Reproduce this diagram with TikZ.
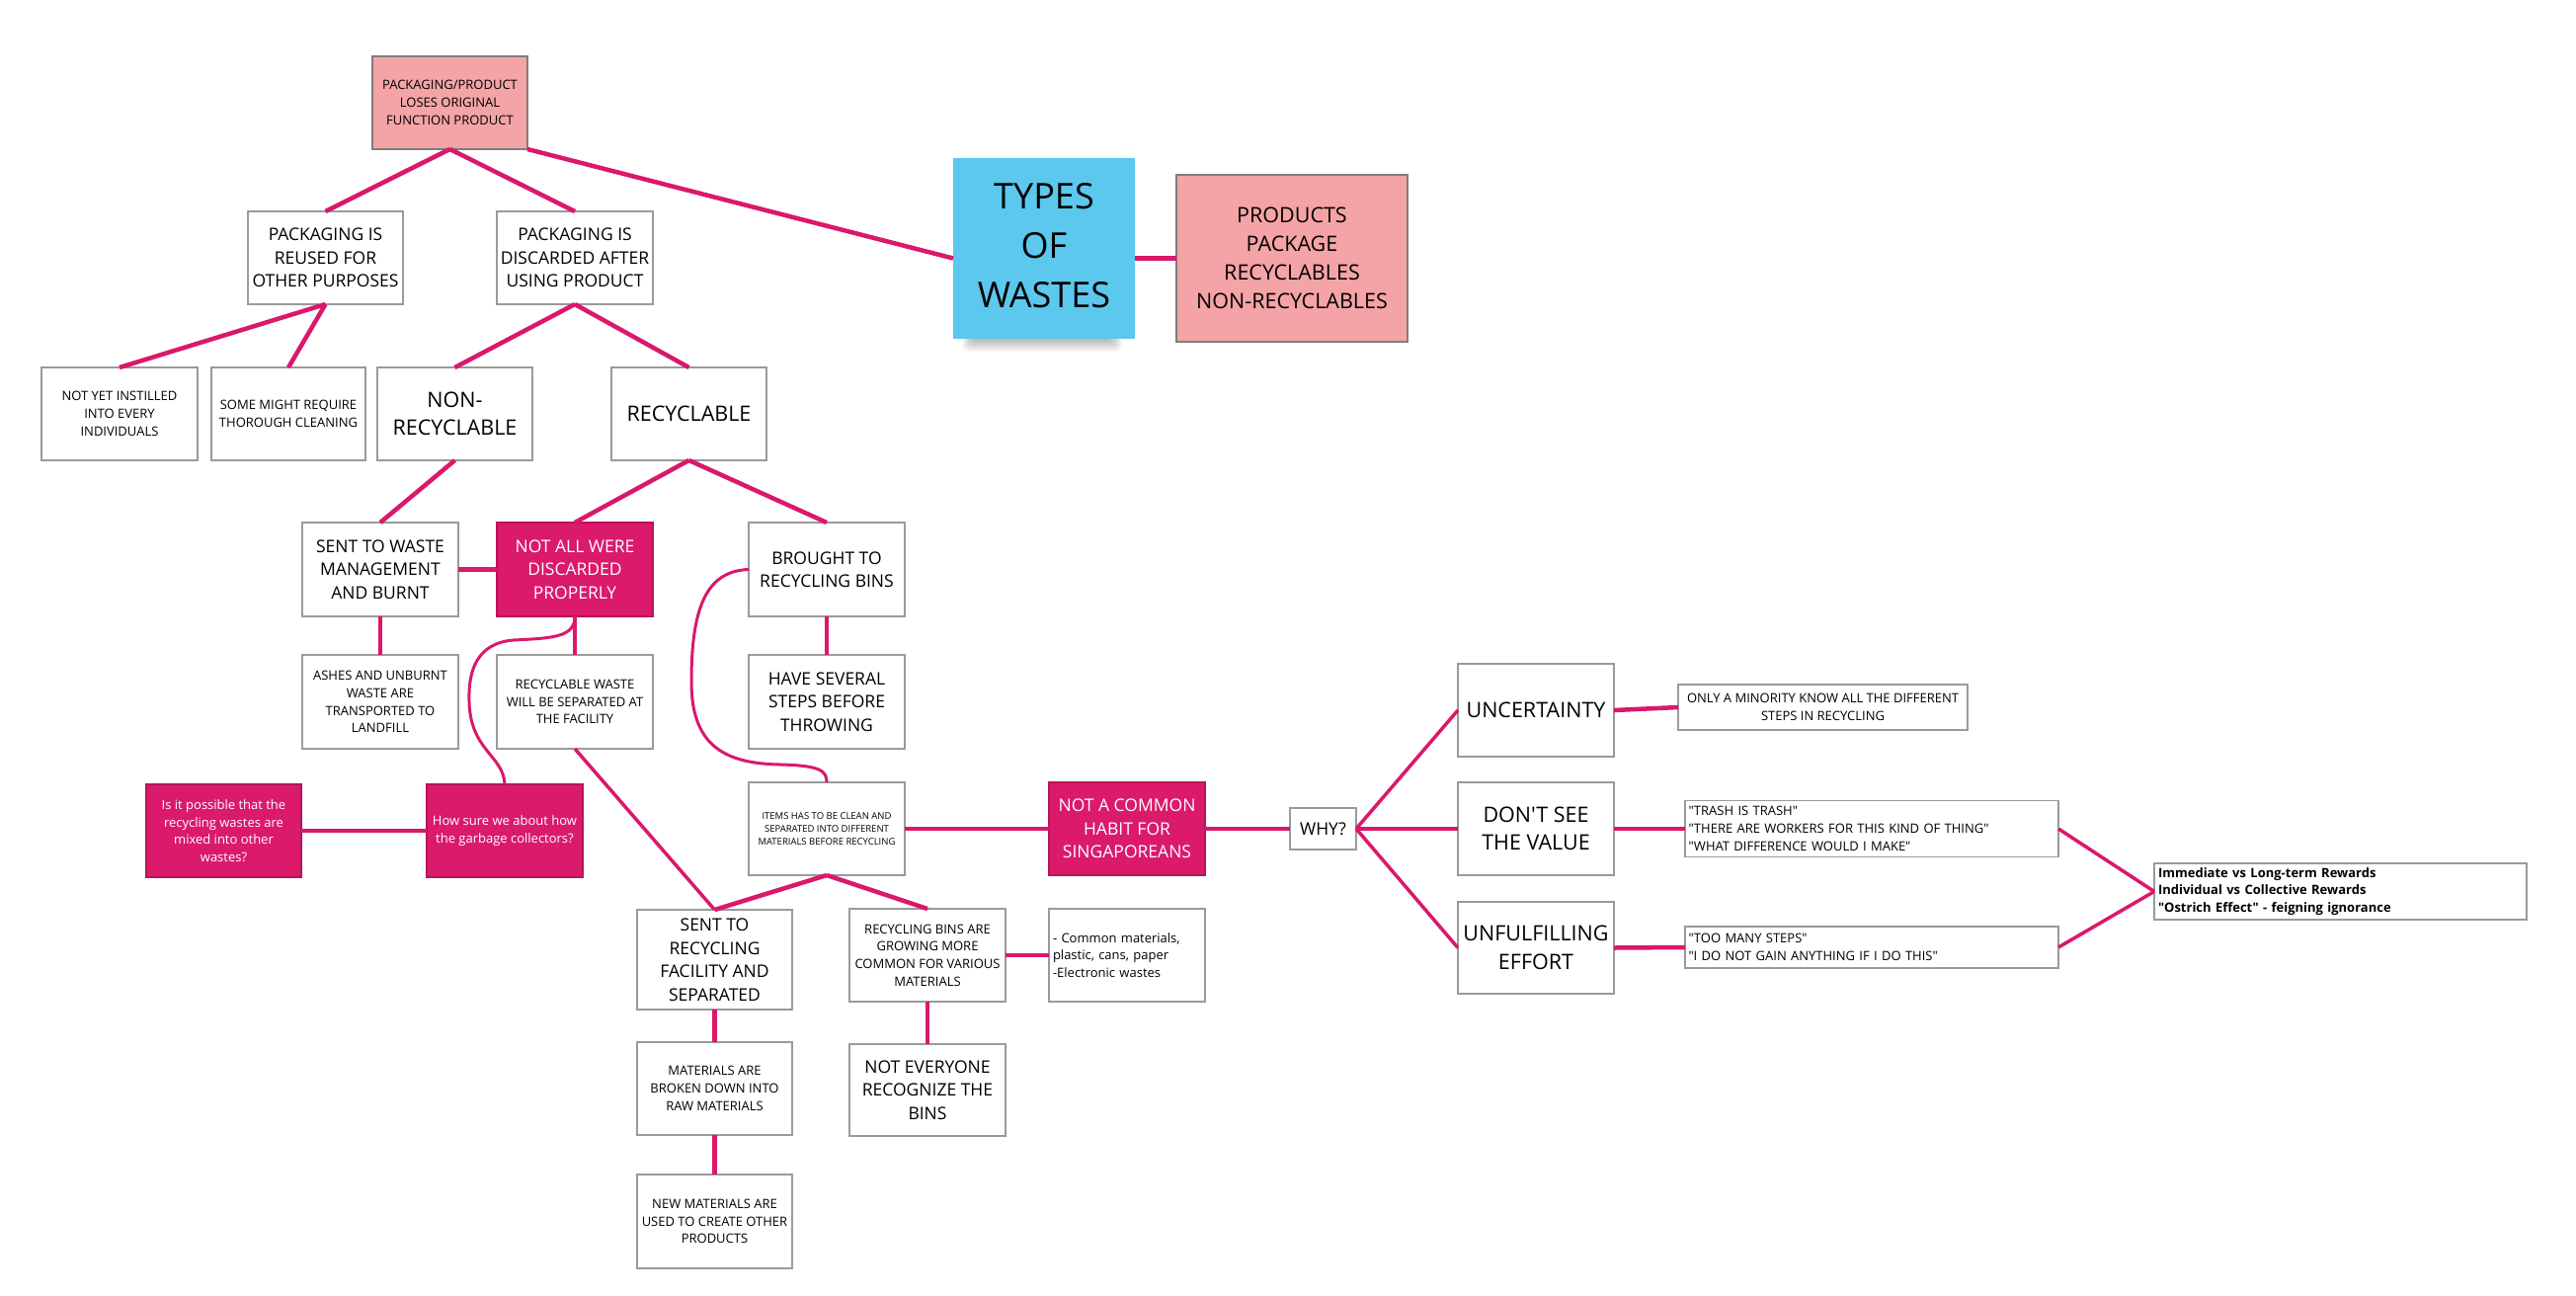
\documentclass[tikz,border=0pt]{standalone}
\usepackage{fontspec}
\setmainfont{Open Sans}[Ligatures=TeXOff]
\definecolor{mag}{HTML}{DA186C}
\definecolor{magfill}{HTML}{DB1A6C}
\definecolor{magbord}{HTML}{B8145A}
\definecolor{pinkfill}{HTML}{F4A3A6}
\definecolor{bord}{HTML}{9A9A9A}
\definecolor{pbord}{HTML}{7E7E7E}
\definecolor{stickyblue}{HTML}{5CC8EE}
\newcommand\fzA{\fontsize{9.5}{13.3}\selectfont}
\newcommand\fzB{\fontsize{13}{17.7}\selectfont}
\newcommand\fzC{\fontsize{17.5}{23.5}\selectfont}
\newcommand\fzD{\fontsize{21.5}{28.5}\selectfont}
\newcommand\fzE{\fontsize{36}{50}\selectfont}
\begin{document}
\begin{tikzpicture}[x=1pt,y=-1pt,
  box/.style={draw=bord, line width=1.3pt, fill=white, inner sep=0pt, outer sep=0pt, align=center, text=black},
  pinkbox/.style={box, draw=pbord, fill=pinkfill},
  magbox/.style={box, draw=magbord, fill=magfill, text=white},
  sz/.style 2 args={minimum width=#1, minimum height=#2},
  conn/.style={draw=mag, line width=4.5pt},
  thinconn/.style={draw=mag, line width=3.5pt},
  curveconn/.style={draw=mag, line width=3pt}]
\useasboundingbox (0,0) rectangle (2608,1312);

% sticky shadow
\foreach \i in {0,...,7}
  \fill[black, opacity=0.045, rounded corners=6pt] (985-\i*1.5,330) rectangle (1125+\i*1.5,343+\i*1.8);

% nodes
\node[pinkbox, sz={157}{94}, font=\fzB] (top) at (455.5,104) {PACKAGING/PRODUCT\\LOSES ORIGINAL\\FUNCTION PRODUCT};
\node[box, sz={157}{94}, font=\fzC] (reused) at (329.5,261) {PACKAGING IS\\REUSED FOR\\OTHER PURPOSES};
\node[box, sz={158}{94}, font=\fzC] (discarded) at (582,261) {PACKAGING IS\\DISCARDED AFTER\\USING PRODUCT};
\node[box, sz={158}{94}, font=\fzB] (notyet) at (121,419) {NOT YET INSTILLED\\INTO EVERY\\INDIVIDUALS};
\node[box, sz={156}{94}, font=\fzB] (somemight) at (292,419) {SOME MIGHT REQUIRE\\THOROUGH CLEANING};
\node[box, sz={157}{94}, font=\fzD] (nonrec) at (460.5,419) {NON-\\RECYCLABLE};
\node[box, sz={157}{94}, font=\fzD] (rec) at (697.5,419) {RECYCLABLE};
\node[fill=stickyblue, inner sep=0pt, outer sep=0pt, sz={184}{183}, align=center, font=\fzE] (types) at (1057,251.5) {\raisebox{6pt}{\begin{tabular}{@{}c@{}}TYPES\\OF\\WASTES\end{tabular}}};
\node[pinkbox, sz={234}{169}, font=\fontsize{21.5}{29}\selectfont] (products) at (1308,261.5) {PRODUCTS\\PACKAGE\\RECYCLABLES\\NON-RECYCLABLES};

\node[box, sz={158}{95}, font=\fzC] (sentwaste) at (385,576.5) {SENT TO WASTE\\MANAGEMENT\\AND BURNT};
\node[magbox, sz={158}{95}, font=\fzC] (notall) at (582,576.5) {NOT ALL WERE\\DISCARDED\\PROPERLY};
\node[box, sz={158}{95}, font=\fzC] (brought) at (837,576.5) {BROUGHT TO\\RECYCLING BINS};
\node[box, sz={158}{95}, font=\fzB] (ashes) at (385,710.5) {ASHES AND UNBURNT\\WASTE ARE\\TRANSPORTED TO\\LANDFILL};
\node[box, sz={158}{95}, font=\fzB] (recwaste) at (582,710.5) {RECYCLABLE WASTE\\WILL BE SEPARATED AT\\THE FACILITY};
\node[box, sz={158}{95}, font=\fzC] (several) at (837,710.5) {HAVE SEVERAL\\STEPS BEFORE\\THROWING};

\node[magbox, sz={157}{94}, font=\fzB] (ispossible) at (226.5,841) {Is it possible that the\\recycling wastes are\\mixed into other\\wastes?};
\node[magbox, sz={158}{94}, font=\fzB] (howsure) at (511,841) {How sure we about how\\the garbage collectors?};
\node[box, sz={158}{94}, font=\fzA] (items) at (837,839) {ITEMS HAS TO BE CLEAN AND\\SEPARATED INTO DIFFERENT\\MATERIALS BEFORE RECYCLING};
\node[magbox, sz={158}{94}, font=\fzC] (notcommon) at (1141,839) {NOT A COMMON\\HABIT FOR\\SINGAPOREANS};
\node[box, sz={67}{42}, font=\fzC] (why) at (1339.5,839) {WHY?};

\node[box, sz={157}{101}, font=\fzC] (sentrec) at (723.5,971.5) {SENT TO\\RECYCLING\\FACILITY AND\\SEPARATED};
\node[box, sz={157}{94}, font=\fzB] (materials) at (723.5,1102) {MATERIALS ARE\\BROKEN DOWN INTO\\RAW MATERIALS};
\node[box, sz={157}{95}, font=\fzB] (newmat) at (723.5,1236.5) {NEW MATERIALS ARE\\USED TO CREATE OTHER\\PRODUCTS};
\node[box, sz={158}{94}, font=\fzB] (binsgrow) at (939,967) {RECYCLING BINS ARE\\GROWING MORE\\COMMON FOR VARIOUS\\MATERIALS};
\node[box, sz={158}{93}, font=\fzC] (noteveryone) at (939,1103.5) {NOT EVERYONE\\RECOGNIZE THE\\BINS};
\node[box, sz={158}{94}, font=\fzB, align=left, text width=150] (common) at (1141,967) {- Common materials,\\plastic, cans, paper\\-Electronic wastes};

\node[box, sz={158}{94}, font=\fzD] (unc) at (1555,719) {UNCERTAINTY};
\node[box, sz={158}{94}, font=\fzD] (dontsee) at (1555,839) {DON'T SEE\\THE VALUE};
\node[box, sz={158}{93}, font=\fzD] (unful) at (1555,959.5) {UNFULFILLING\\EFFORT};
\node[box, sz={293}{46}, font=\fzB] (only) at (1845.5,716) {ONLY A MINORITY KNOW ALL THE DIFFERENT\\STEPS IN RECYCLING};
\node[box, sz={378}{57}, font=\fzB, align=left, text width=371] (trash) at (1895,839) {"TRASH IS TRASH"\\"THERE ARE WORKERS FOR THIS KIND OF THING"\\"WHAT DIFFERENCE WOULD I MAKE"};
\node[box, sz={378}{42}, font=\fzB, align=left, text width=371] (toomany) at (1895,959) {"TOO MANY STEPS"\\"I DO NOT GAIN ANYTHING IF I DO THIS"};
\node[box, sz={377}{57}, font=\fzB\bfseries, align=left, text width=369] (final) at (2369.5,902.5) {Immediate vs Long-term Rewards\\Individual vs Collective Rewards\\"Ostrich Effect" - feigning ignorance};

% connectors
\draw[conn] (top.south) -- (reused.north);
\draw[conn] (top.south) -- (discarded.north);
\draw[conn] (top.south east) -- (types.west |- products.west);
\draw[conn] (types.east |- products.west) -- (products.west);
\draw[conn] (reused.south) -- (notyet.north);
\draw[conn] (reused.south) -- (somemight.north);
\draw[conn] (discarded.south) -- (nonrec.north);
\draw[conn] (discarded.south) -- (rec.north);
\draw[conn] (nonrec.south) -- (sentwaste.north);
\draw[conn] (rec.south) -- (notall.north);
\draw[conn] (rec.south) -- (brought.north);
\draw[conn] (sentwaste.east) -- (notall.west);
\draw[conn] (sentwaste.south) -- (ashes.north);
\draw[conn] (notall.south) -- (recwaste.north);
\draw[conn] (brought.south) -- (several.north);
\draw[curveconn] (notall.south) .. controls (582,645) and (560,646) .. (520,648)
   .. controls (482,651) and (474,680) .. (475,710)
   .. controls (476,760) and (510,765) .. (howsure.north);
\draw[conn] (howsure.west) -- (ispossible.east);
\draw[curveconn] (brought.west) .. controls (715,578) and (700,615) .. (700,690)
   .. controls (700,752) and (730,773) .. (790,774)
   .. controls (830,775) and (837,780) .. (items.north);
\draw[thinconn] (recwaste.south) -- (sentrec.north);
\draw[conn] (items.south) -- (sentrec.north);
\draw[conn] (items.south) -- (binsgrow.north);
\draw[conn] (items.east) -- (notcommon.west);
\draw[conn] (notcommon.east) -- (why.west);
\draw[conn] (sentrec.south) -- (materials.north);
\draw[conn] (materials.south) -- (newmat.north);
\draw[conn] (binsgrow.east) -- (common.west);
\draw[conn] (binsgrow.south) -- (noteveryone.north);
\draw[thinconn] (why.east) -- (unc.west);
\draw[conn] (why.east) -- (dontsee.west);
\draw[thinconn] (why.east) -- (unful.west);
\draw[conn] (unc.east) -- (only.west);
\draw[conn] (dontsee.east) -- (trash.west);
\draw[conn] (unful.east) -- (toomany.west);
\draw[thinconn] (trash.east) -- (final.west);
\draw[thinconn] (toomany.east) -- (final.west);
\end{tikzpicture}
\end{document}
